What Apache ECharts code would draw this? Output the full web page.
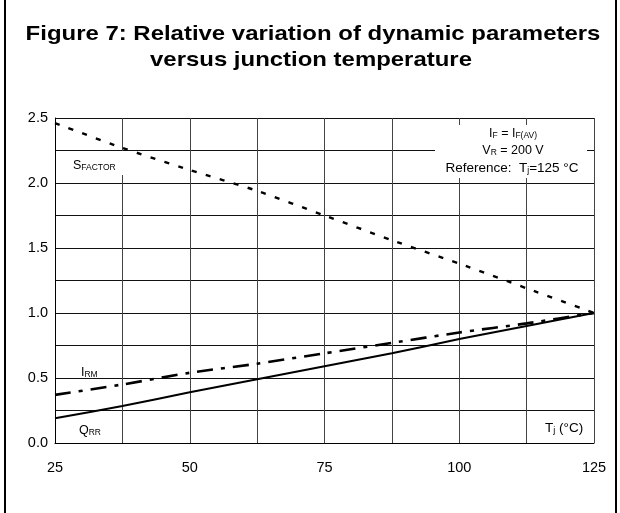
<!DOCTYPE html>
<html>
<head>
<meta charset="utf-8">
<script src="https://cdn.jsdelivr.net/npm/echarts@6/dist/echarts.min.js"></script>
<style>html,body{margin:0;padding:0;background:#fff}#c{width:620px;height:513px}</style>
</head>
<body>
<div id="c"></div>
<script>
const temps = [25, 37.5, 50, 62.5, 75, 87.5, 100, 112.5, 125];
const sFactor = [2.46, 2.27, 2.10, 1.94, 1.75, 1.56, 1.38, 1.19, 1.00];
const iRM = [0.37, 0.45, 0.54, 0.61, 0.69, 0.77, 0.85, 0.92, 1.00];
const qRR = [0.19, 0.285, 0.39, 0.49, 0.59, 0.69, 0.80, 0.90, 1.00];
const xTickLabels = [25, 50, 75, 100, 125];
const yTickLabels = [0, 0.5, 1.0, 1.5, 2.0, 2.5];
const titleLines = ['Figure 7: Relative variation of dynamic parameters', 'versus junction temperature'];

const FONT = '"Liberation Sans", Arial, sans-serif';
const pair = (xs, ys) => xs.map((x, i) => [x, ys[i]]);

const chart = echarts.init(document.getElementById('c'), null, {renderer: 'canvas'});
const subRich = {
  m: {fontSize: 12.5, fontFamily: FONT, color: '#000', lineHeight: 14, verticalAlign: 'bottom'},
  s: {fontSize: 8.5, fontFamily: FONT, color: '#000', lineHeight: 10, verticalAlign: 'bottom'}
};
const titleStyle = {fontFamily: FONT, fontWeight: 'bold', fontSize: 21, fill: '#000', align: 'center', verticalAlign: 'top'};
chart.setOption({
  animation: false,
  backgroundColor: '#fff',
  grid: {left: 55, right: 26, top: 118, bottom: 70},
  xAxis: {
    type: 'value', min: 25, max: 125, interval: 12.5,
    axisLine: {show: true, lineStyle: {color: '#000', width: 1}},
    axisTick: {show: false},
    axisLabel: {
      margin: 17, fontFamily: FONT, fontSize: 14.5, color: '#000',
      formatter: v => xTickLabels.includes(v) ? String(v) : ''
    },
    splitLine: {show: true, lineStyle: {color: '#444', width: 1}}
  },
  yAxis: {
    type: 'value', min: 0, max: 2.5, interval: 0.25,
    axisLine: {show: true, lineStyle: {color: '#000', width: 1}},
    axisTick: {show: false},
    axisLabel: {
      margin: 7, fontFamily: FONT, fontSize: 14.5, color: '#000',
      formatter: v => yTickLabels.some(t => Math.abs(t - v) < 1e-6) ? v.toFixed(1) : ''
    },
    splitLine: {show: true, lineStyle: {color: '#111', width: 1}}
  },
  series: [
    {type: 'line', name: 'SFACTOR', data: pair(temps, sFactor), symbol: 'none', smooth: 0.2, z: 5,
     lineStyle: {color: '#000', width: 2.4, type: [5, 9.5]}},
    {type: 'line', name: 'IRM', data: pair(temps, iRM), symbol: 'none', smooth: 0.2, z: 5,
     lineStyle: {color: '#000', width: 2.6, type: [16, 8, 4, 8]}},
    {type: 'line', name: 'QRR', data: pair(temps, qRR), symbol: 'none', smooth: 0.2, z: 5,
     lineStyle: {color: '#000', width: 2}}
  ],
  graphic: [
    {type: 'text', x: 313, y: 24, scaleX: 1.14, style: Object.assign({text: titleLines[0]}, titleStyle)},
    {type: 'text', x: 311, y: 50, scaleX: 1.14, style: Object.assign({text: titleLines[1]}, titleStyle)},
    {type: 'line', shape: {x1: 5, y1: 0, x2: 5, y2: 513}, style: {stroke: '#000', lineWidth: 2}},
    {type: 'line', shape: {x1: 616, y1: 0, x2: 616, y2: 513}, style: {stroke: '#000', lineWidth: 2}},
    // S_FACTOR label with white box
    {type: 'rect', shape: {x: 62, y: 151, width: 62, height: 24}, style: {fill: '#fff'}, z: 10},
    {type: 'text', x: 73, y: 158, z: 11, style: {text: '{m|S}{s|FACTOR}', rich: subRich}},
    // conditions box
    {type: 'rect', shape: {x: 435, y: 125, width: 152, height: 53}, style: {fill: '#fff'}, z: 10},
    {type: 'text', x: 513, y: 126, z: 11, style: {text: '{m|I}{s|F}{m| = I}{s|F(AV)}', rich: subRich, align: 'center'}},
    {type: 'text', x: 513, y: 143, z: 11, style: {text: '{m|V}{s|R}{m| = 200 V}', rich: subRich, align: 'center'}},
    {type: 'text', x: 512, y: 160, z: 11, style: {text: '{m|Reference:  T}{s|j}{m|=125 °C}', rich: {
      m: {fontSize: 13.5, fontFamily: FONT, color: '#000', lineHeight: 15, verticalAlign: 'bottom'},
      s: {fontSize: 8.5, fontFamily: FONT, color: '#000', lineHeight: 10, verticalAlign: 'bottom'}
    }, align: 'center'}},
    // I_RM and Q_RR
    {type: 'text', x: 81, y: 365, z: 11, style: {text: '{m|I}{s|RM}', rich: subRich}},
    {type: 'text', x: 79, y: 423, z: 11, style: {text: '{m|Q}{s|RR}', rich: subRich}},
    // axis title
    {type: 'text', x: 545, y: 419, z: 11, style: {text: '{a|T}{b|j}{a| (°C)}', rich: {
      a: {fontSize: 13.5, fontFamily: FONT, color: '#000', lineHeight: 16, verticalAlign: 'bottom'},
      b: {fontSize: 9, fontFamily: FONT, color: '#000', lineHeight: 12, verticalAlign: 'bottom'}
    }}}
  ]
});
</script>
</body>
</html>
